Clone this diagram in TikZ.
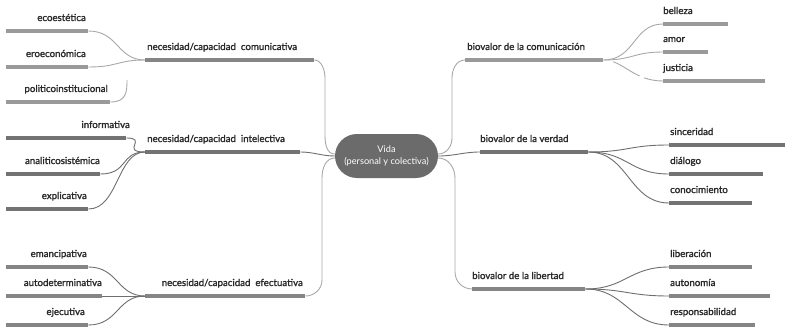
\documentclass[tikz,border=0pt]{standalone}
\usepackage{fontspec}
\setmainfont{Lato}
\newfontfamily\lblfont{Lato}[FakeBold=1.6]
\definecolor{barL}{HTML}{9A9A9A}
\definecolor{barM}{HTML}{858585}
\definecolor{barD}{HTML}{737373}
\definecolor{lnL}{HTML}{A8A8A8}
\definecolor{lnD}{HTML}{6E6E6E}
\definecolor{txt}{HTML}{2A2A2A}
\definecolor{vidafill}{HTML}{6B6B6B}
\tikzset{
  lbl/.style={font=\lblfont\fontsize{9.7}{11}\selectfont, text=txt, inner sep=0pt},
  barnode/.style={rectangle, fill=#1, draw=none, inner sep=0pt, minimum height=4pt, anchor=west},
  conn/.style={draw=#1, line width=0.9pt},
  vidanode/.style={rectangle, rounded corners=22pt, fill=vidafill, text=white, align=center,
    minimum width=103pt, minimum height=44pt, inner sep=0pt, font=\fontsize{9.2}{12.5}\selectfont}
}
\newcommand\mkbar[5]{\node[barnode=#5, minimum width={(#3-#2)*1pt}] (#1) at (#2,#4) {};}
\begin{document}
\begin{tikzpicture}[x=1pt,y=-1pt]
\useasboundingbox (0,0) rectangle (785,329);
% center
\node[vidanode] (vida) at (386.5,156) {Vida\\(personal y colectiva)};
% ---- left main bars
\mkbar{cb}{145}{314}{60}{barM}
\mkbar{ci}{145}{300}{152}{barD}
\mkbar{ce}{145}{305}{296}{barM}
\node[lbl, anchor=base west] (tcb) at (147,50) {necesidad/capacidad\ \ comunicativa};
\node[lbl, anchor=base west] (tci) at (147,142) {necesidad/capacidad\ \ intelectiva};
\node[lbl, anchor=base east] (tce) at (303,286) {necesidad/capacidad\ \ efectuativa};
% ---- left children
\mkbar{b1}{6}{88}{31}{barL}
\mkbar{b2}{6}{88}{67}{barL}
\mkbar{b3}{6}{110}{102}{barL}
\node[lbl, anchor=base east] (tb1) at (86,21) {ecoestética};
\node[lbl, anchor=base east] (tb2) at (86,57) {eroeconómica};
\node[lbl, anchor=base east] (tb3) at (108,92) {politicoinstitucional};
\mkbar{i1}{6}{126}{138}{barD}
\mkbar{i2}{6}{100}{174}{barD}
\mkbar{i3}{6}{88}{209}{barD}
\node[lbl, anchor=base east] (ti1) at (130,128) {informativa};
\node[lbl, anchor=base east] (ti2) at (100,164) {analiticosistémica};
\node[lbl, anchor=base east] (ti3) at (87,199) {explicativa};
\mkbar{e1}{6}{88}{267}{barM}
\mkbar{e2}{6}{102}{296}{barM}
\mkbar{e3}{6}{88}{325}{barM}
\node[lbl, anchor=base east] (te1) at (87,257) {emancipativa};
\node[lbl, anchor=base east] (te2) at (102,286) {autodeterminativa};
\node[lbl, anchor=base east] (te3) at (85,315) {ejecutiva};
% ---- right main bars
\mkbar{rc}{465}{603}{60}{barL}
\mkbar{rv}{480}{588}{152}{barD}
\mkbar{rl}{472}{585}{289}{barM}
\node[lbl, anchor=base west] (trc) at (467,50) {biovalor de la comunicación};
\node[lbl, anchor=base west] (trv) at (480,142) {biovalor de la verdad};
\node[lbl, anchor=base west] (trl) at (472,279) {biovalor de la libertad};
% ---- right children
\mkbar{c1}{663}{728}{24}{barL}
\mkbar{c2}{663}{708}{52}{barL}
\mkbar{c3}{663}{765}{81}{barL}
\node[lbl, anchor=base west] (tc1) at (663,14) {belleza};
\node[lbl, anchor=base west] (tc2) at (663,42) {amor};
\node[lbl, anchor=base west] (tc3) at (663,71) {justicia};
\mkbar{v1}{669}{785}{145}{barD}
\mkbar{v2}{669}{763}{174}{barD}
\mkbar{v3}{669}{752}{203}{barD}
\node[lbl, anchor=base west] (tv1) at (670,135) {sinceridad};
\node[lbl, anchor=base west] (tv2) at (670,164) {diálogo};
\node[lbl, anchor=base west] (tv3) at (670,193) {conocimiento};
\mkbar{l1}{669}{752}{267}{barM}
\mkbar{l2}{669}{770}{296}{barM}
\mkbar{l3}{669}{755}{325}{barM}
\node[lbl, anchor=base west] (tl1) at (670,257) {liberación};
\node[lbl, anchor=base west] (tl2) at (670,286) {autonomía};
\node[lbl, anchor=base west] (tl3) at (670,315) {responsabilidad};
% ---- connectors center
\draw[conn=lnL] (cb.east) to[out=0,in=90,looseness=0.9] (325,78) -- (325,136) to[out=-90,in=180] ([yshift=2pt]vida.west);
\draw[conn=lnD] (ci.east) to[out=0,in=180] (vida.west);
\draw[conn=lnL] ([yshift=-2pt]vida.west) to[out=180,in=90] (322,178) -- (322,280) to[out=-90,in=0] (ce.east);
\draw[conn=lnL] ([yshift=2pt]vida.east) to[out=0,in=-90] (452,138) -- (452,78) to[out=90,in=180] (rc.west);
\draw[conn=lnD] (vida.east) to[out=0,in=180] (rv.west);
\draw[conn=lnL] ([yshift=-2pt]vida.east) to[out=0,in=90] (455,178) -- (455,272) to[out=-90,in=180] (rl.west);
% ---- left children connectors
\coordinate (pfree) at (127,80);
\draw[conn=lnL] (b1.east) .. controls +(30,0) and +(-28,0) .. (cb.west);
\draw[conn=lnL] (b2.east) .. controls +(30,0) and +(-28,0) .. (cb.west);
\draw[conn=lnL] (b3.east) .. controls +(16,0) and +(0,12) .. (pfree);
\draw[conn=lnD] (i1.east) .. controls +(22,0) and +(-25,0) .. (ci.west);
\draw[conn=lnD] (i2.east) .. controls +(28,0) and +(-25,0) .. (ci.west);
\draw[conn=lnD] (i3.east) .. controls +(30,0) and +(-28,0) .. (ci.west);
\draw[conn=lnD] (e1.east) .. controls +(30,0) and +(-28,0) .. (ce.west);
\draw[conn=lnD] (e2.east) -- (ce.west);
\draw[conn=lnD] (e3.east) .. controls +(30,0) and +(-28,0) .. (ce.west);
% ---- right children connectors
\draw[conn=lnL] (rc.east) .. controls +(32,0) and +(-30,0) .. (c1.west);
\draw[conn=lnL] (rc.east) .. controls +(30,0) and +(-30,0) .. (c2.west);
\draw[conn=lnL, dash pattern=on 0pt off 10pt on 30pt off 5pt on 60pt] (rc.east) .. controls +(20,0) and +(-30,0) .. (c3.west);
\draw[conn=lnD] (rv.east) .. controls +(40,0) and +(-40,0) .. (v1.west);
\draw[conn=lnD] (rv.east) .. controls +(40,0) and +(-40,0) .. (v2.west);
\draw[conn=lnD] (rv.east) .. controls +(40,0) and +(-40,0) .. (v3.west);
\draw[conn=lnD] (rl.east) .. controls +(40,0) and +(-40,0) .. (l1.west);
\draw[conn=lnD] (rl.east) .. controls +(40,0) and +(-40,0) .. (l2.west);
\draw[conn=lnD] (rl.east) .. controls +(40,0) and +(-40,0) .. (l3.west);
\end{tikzpicture}
\end{document}
